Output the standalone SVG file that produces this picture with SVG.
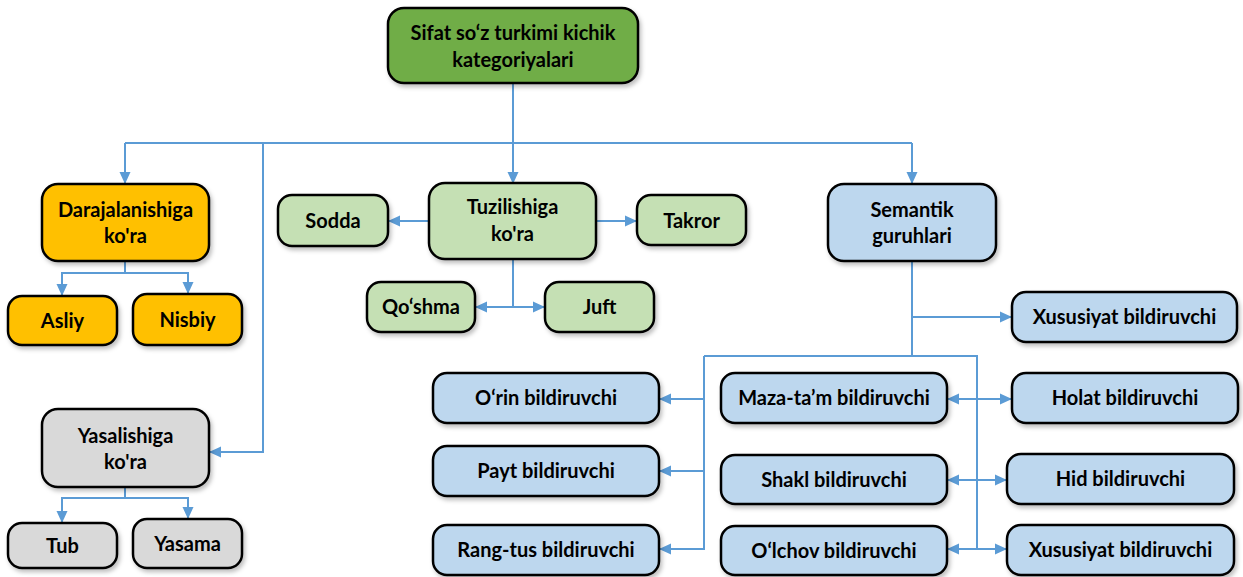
<svg xmlns="http://www.w3.org/2000/svg" width="1243" height="577" viewBox="0 0 1243 577">
<style>
.n rect{stroke:#000;stroke-width:2.5;filter:url(#sh)}
.n text{font-family:Lato,"Liberation Sans",sans-serif;font-weight:bold;font-size:20px;fill:#000;text-anchor:middle}
.top rect{fill:#70ad47}
.or rect{fill:#ffc000}
.gr rect{fill:#c5e0b4}
.gy rect{fill:#d9d9d9}
.bl rect{fill:#bdd7ee}
#conn path{fill:none;stroke:#5b9bd5;stroke-width:2}
</style>
<defs>
<filter id="sh" x="-10%" y="-10%" width="130%" height="140%">
<feDropShadow dx="2" dy="3" stdDeviation="2" flood-color="#000" flood-opacity="0.25"/>
</filter>
<marker id="ar" markerUnits="userSpaceOnUse" markerWidth="12" markerHeight="12" viewBox="0 0 12 12" refX="11" refY="6" orient="auto">
<path d="M0,0.5 L12,6 L0,11.5 z" fill="#5b9bd5"/>
</marker>
</defs>
<rect width="1243" height="577" fill="#fff"/>
<g id="conn">
<path d="M513,83 V183" marker-end="url(#ar)"/>
<path d="M125,143 H912"/>
<path d="M125,143 V183" marker-end="url(#ar)"/>
<path d="M912,143 V183" marker-end="url(#ar)"/>
<path d="M263,143 V452 H210" marker-end="url(#ar)"/>
<path d="M125,261 V273 H62 V295" marker-end="url(#ar)"/>
<path d="M125,273 H188 V293" marker-end="url(#ar)"/>
<path d="M125,487 V498 H62 V522" marker-end="url(#ar)"/>
<path d="M125,498 H188 V518" marker-end="url(#ar)"/>
<path d="M429,221 H389" marker-end="url(#ar)"/>
<path d="M596,221 H636" marker-end="url(#ar)"/>
<path d="M513,259 V307 H476" marker-end="url(#ar)"/>
<path d="M513,307 H544" marker-end="url(#ar)"/>
<path d="M912,261 V356"/>
<path d="M912,317 H1011" marker-end="url(#ar)"/>
<path d="M704,356 H977 V549"/>
<path d="M704,356 V549 H660" marker-end="url(#ar)"/>
<path d="M704,399 H660" marker-end="url(#ar)"/>
<path d="M704,471 H660" marker-end="url(#ar)"/>
<path d="M977,399 H948" marker-end="url(#ar)"/>
<path d="M977,399 H1011" marker-end="url(#ar)"/>
<path d="M977,480 H948" marker-end="url(#ar)"/>
<path d="M977,480 H1006" marker-end="url(#ar)"/>
<path d="M977,549 H948" marker-end="url(#ar)"/>
<path d="M977,549 H1006" marker-end="url(#ar)"/>
</g>
<g id="n-root" class="n top"><rect x="388" y="8" width="250" height="75" rx="16"/><text x="513" y="40">Sifat so‘z turkimi kichik</text><text x="513" y="67">kategoriyalari</text></g>
<g id="n-daraja" class="n or"><rect x="42" y="184" width="167" height="77" rx="16"/><text x="125.5" y="217">Darajalanishiga</text><text x="125.5" y="243">ko'ra</text></g>
<g id="n-asliy" class="n or"><rect x="8" y="296" width="109" height="49" rx="14"/><text x="62.5" y="328">Asliy</text></g>
<g id="n-nisbiy" class="n or"><rect x="133" y="294" width="109" height="51" rx="14"/><text x="187.5" y="327">Nisbiy</text></g>
<g id="n-yasal" class="n gy"><rect x="42" y="409" width="167" height="78" rx="16"/><text x="125.5" y="443">Yasalishiga</text><text x="125.5" y="469">ko'ra</text></g>
<g id="n-tub" class="n gy"><rect x="8" y="523" width="109" height="45" rx="14"/><text x="62.5" y="553">Tub</text></g>
<g id="n-yasama" class="n gy"><rect x="133" y="519" width="109" height="49" rx="14"/><text x="187.5" y="551">Yasama</text></g>
<g id="n-tuzil" class="n gr"><rect x="429" y="183" width="167" height="76" rx="16"/><text x="512.5" y="214">Tuzilishiga</text><text x="512.5" y="241">ko'ra</text></g>
<g id="n-sodda" class="n gr"><rect x="278" y="195" width="110" height="51" rx="14"/><text x="333" y="228">Sodda</text></g>
<g id="n-takror" class="n gr"><rect x="637" y="195" width="109" height="50" rx="14"/><text x="691.5" y="228">Takror</text></g>
<g id="n-qoshma" class="n gr"><rect x="367" y="282" width="108" height="50" rx="14"/><text x="421" y="314">Qo‘shma</text></g>
<g id="n-juft" class="n gr"><rect x="545" y="282" width="109" height="50" rx="14"/><text x="599.5" y="314">Juft</text></g>
<g id="n-seman" class="n bl"><rect x="828" y="184" width="168" height="77" rx="16"/><text x="912" y="217">Semantik</text><text x="912" y="243">guruhlari</text></g>
<g id="n-xus1" class="n bl"><rect x="1012" y="292" width="225" height="50" rx="14"/><text x="1124.5" y="324">Xususiyat bildiruvchi</text></g>
<g id="n-orin" class="n bl"><rect x="433" y="373" width="226" height="50" rx="14"/><text x="546" y="405">O‘rin bildiruvchi</text></g>
<g id="n-payt" class="n bl"><rect x="433" y="446" width="226" height="50" rx="14"/><text x="546" y="478">Payt bildiruvchi</text></g>
<g id="n-rang" class="n bl"><rect x="433" y="525" width="226" height="50" rx="14"/><text x="546" y="557">Rang-tus bildiruvchi</text></g>
<g id="n-maza" class="n bl"><rect x="721" y="373" width="226" height="50" rx="14"/><text x="834" y="405">Maza-ta’m bildiruvchi</text></g>
<g id="n-shakl" class="n bl"><rect x="721" y="455" width="226" height="49" rx="14"/><text x="834" y="487">Shakl bildiruvchi</text></g>
<g id="n-olchov" class="n bl"><rect x="721" y="526" width="226" height="49" rx="14"/><text x="834" y="558">O‘lchov bildiruvchi</text></g>
<g id="n-holat" class="n bl"><rect x="1012" y="373" width="226" height="50" rx="14"/><text x="1125" y="405">Holat bildiruvchi</text></g>
<g id="n-hid" class="n bl"><rect x="1007" y="454" width="227" height="50" rx="14"/><text x="1120.5" y="486">Hid bildiruvchi</text></g>
<g id="n-xus2" class="n bl"><rect x="1007" y="525" width="227" height="50" rx="14"/><text x="1120.5" y="557">Xususiyat bildiruvchi</text></g>
</svg>
